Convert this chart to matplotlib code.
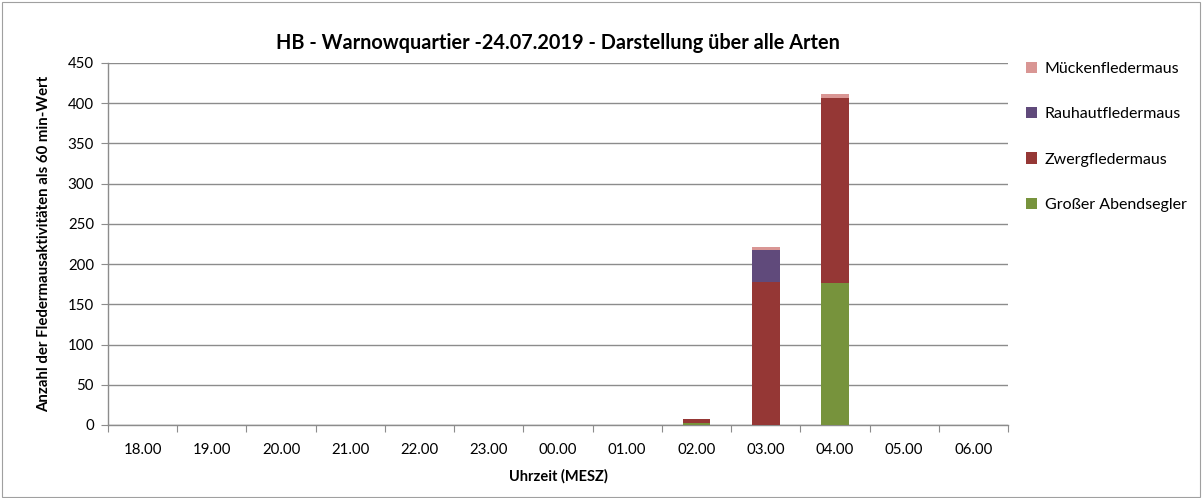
import numpy as np
import matplotlib.pyplot as plt
from matplotlib.patches import Rectangle

plt.rcParams['font.family'] = ['Lato', 'DejaVu Sans']

# --- data ---
hours = ['18.00', '19.00', '20.00', '21.00', '22.00', '23.00', '00.00',
         '01.00', '02.00', '03.00', '04.00', '05.00', '06.00']
abendsegler = [0, 0, 0, 0, 0, 0, 0, 0, 3, 0, 176, 0, 0]
zwerg = [0, 0, 0, 0, 0, 0, 0, 0, 5, 178, 231, 0, 0]
rauhaut = [0, 0, 0, 0, 0, 0, 0, 0, 0, 40, 0, 0, 0]
muecken = [0, 0, 0, 0, 0, 0, 0, 0, 0, 3, 4, 0, 0]

series = [
    ('Großer Abendsegler', abendsegler, '#77933C'),
    ('Zwergfledermaus', zwerg, '#953735'),
    ('Rauhautfledermaus', rauhaut, '#604A7B'),
    ('Mückenfledermaus', muecken, '#D99694'),
]

fig = plt.figure(figsize=(12.04, 4.98), dpi=100)
ax = fig.add_axes([0.0897, 0.1466, 0.7475, 0.727])

# outer chart border
fig.patches.append(Rectangle((0.002, 0.003), 0.995, 0.993, transform=fig.transFigure,
                             fill=False, edgecolor='#A0A0A0', linewidth=0.8))

x = np.arange(len(hours))
bottom = np.zeros(len(hours))
handles = []
for name, vals, col in series:
    vals = np.array(vals, dtype=float)
    b = ax.bar(x, vals, width=0.4, bottom=bottom, color=col, edgecolor='none',
               label=name, zorder=3)
    handles.append(b)
    bottom += vals

ax.set_xlim(-0.5, len(hours) - 0.5)
ax.set_ylim(0, 450)
ax.set_yticks(np.arange(0, 451, 50))
ax.grid(axis='y', color='#8C8C8C', linewidth=1.0, zorder=0)

# ticks between categories, labels centered
ax.set_xticks(np.arange(-0.5, len(hours), 1.0))
ax.set_xticklabels([])
ax.set_xticks(x, minor=True)
ax.set_xticklabels(hours, minor=True, fontsize=10.8)
ax.tick_params(axis='x', which='major', length=5, color='#8C8C8C', direction='out')
ax.tick_params(axis='x', which='minor', length=0, pad=13)
ax.tick_params(axis='y', length=5, color='#8C8C8C', labelsize=10.8, pad=5)

for side in ['top', 'right']:
    ax.spines[side].set_visible(False)
for side in ['left', 'bottom']:
    ax.spines[side].set_color('#8C8C8C')
    ax.spines[side].set_linewidth(1.0)

ax.set_title('HB - Warnowquartier -24.07.2019 - Darstellung über alle Arten',
             fontsize=14.3, fontweight='bold', pad=10)
ax.set_xlabel('Uhrzeit (MESZ)', fontsize=10.5, fontweight='bold', labelpad=9)
ax.set_ylabel('Anzahl der Fledermausaktivitäten als 60 min-Wert', fontsize=10.8,
              fontweight='bold', labelpad=12)

leg = fig.legend(handles[::-1], [s[0] for s in series][::-1],
                 loc='upper left', bbox_to_anchor=(0.84, 0.905),
                 frameon=False, fontsize=11.5, handlelength=0.7, handleheight=0.7,
                 handletextpad=0.5, labelspacing=1.95)

fig.savefig('out.png', dpi=100)
